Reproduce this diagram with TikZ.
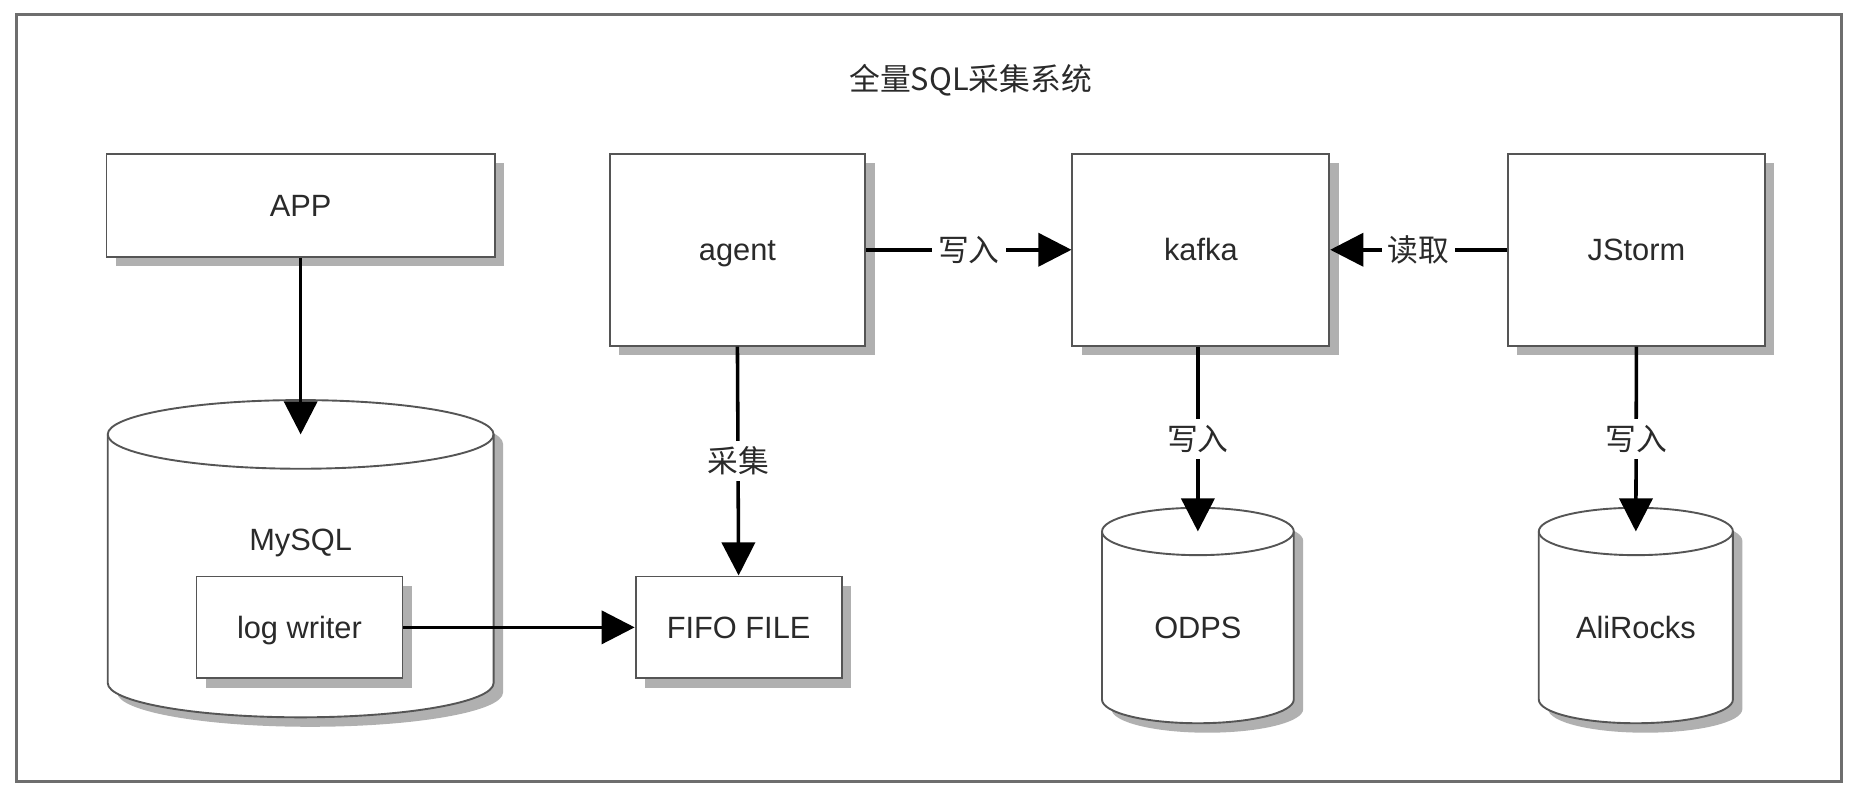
\documentclass[tikz,border=0pt]{standalone}
\usepackage{fontspec}
\setmainfont{Liberation Sans}
\newfontfamily\cjk{Noto Sans CJK SC}
\usetikzlibrary{arrows.meta,shadows}
\definecolor{boxline}{HTML}{555555}
\definecolor{framecol}{HTML}{6E6E6E}
\definecolor{shadowcol}{HTML}{B0B0B0}
\definecolor{txtcol}{HTML}{2A2A2A}
\newcommand\dbcyl[5]{% x1 x2 top bottom ry
  \pgfmathsetmacro\cxc{(#1+#2)/2}%
  \pgfmathsetmacro\ckx{0.5523*(#2-#1)/2}%
  \path[dbbody] ({#1},{#3+#5}) -- ({#1},{#4-#5})
    .. controls ({#1},{#4-0.4477*#5}) and ({\cxc-\ckx},{#4}) .. ({\cxc},{#4})
    .. controls ({\cxc+\ckx},{#4}) and ({#2},{#4-0.4477*#5}) .. ({#2},{#4-#5})
    -- ({#2},{#3+#5})
    .. controls ({#2},{#3+0.4477*#5}) and ({\cxc+\ckx},{#3}) .. ({\cxc},{#3})
    .. controls ({\cxc-\ckx},{#3}) and ({#1},{#3+0.4477*#5}) .. ({#1},{#3+#5}) -- cycle;
  \draw[dbline] ({#1},{#3+#5})
    .. controls ({#1},{#3+1.5523*#5}) and ({\cxc-\ckx},{#3+2*#5}) .. ({\cxc},{#3+2*#5})
    .. controls ({\cxc+\ckx},{#3+2*#5}) and ({#2},{#3+1.5523*#5}) .. ({#2},{#3+#5});
}
\begin{document}
\begin{tikzpicture}[x=0.5pt,y=-0.5pt,
  txt/.style={text=txtcol,font=\fontsize{13pt}{15pt}\selectfont,text height=9.4pt,text depth=0pt},
  shad/.style={drop shadow={shadow xshift=4pt,shadow yshift=-4pt,fill=shadowcol,opacity=1}},
  box/.style={txt,draw=boxline,line width=0.8pt,fill=white,shad,inner sep=0pt},
  dbbody/.style={draw=boxline,line width=0.8pt,fill=white,shad},
  dbline/.style={draw=boxline,line width=0.8pt},
  conn/.style={draw=black,line width=1.5pt,-{Triangle[length=14pt,width=14pt]}},
  lbl/.style={text=txtcol,font=\fontsize{13pt}{15pt}\selectfont\cjk,fill=white,inner sep=2.5pt}]
\useasboundingbox (0,0) rectangle (1568,671);
\fill[white] (0,0) rectangle (1568,671);
\draw[framecol,line width=1.3pt] (14,12) rectangle (1556,660);
\node[text=txtcol,font=\fontsize{13pt}{15pt}\selectfont\cjk] (title) at (820,68) {全量SQL采集系统};
% boxes
\node[box,minimum width=164pt,minimum height=43.5pt] (app) at (254,173.5) {APP};
\node[box,minimum width=108pt,minimum height=81pt] (agent) at (623,211) {agent};
\node[box,minimum width=108.5pt,minimum height=81pt] (kafka) at (1014.5,211) {kafka};
\node[box,minimum width=108.5pt,minimum height=81pt] (jstorm) at (1382.5,211) {JStorm};
% cylinders
\dbcyl{91}{417}{338}{606}{29}
\dbcyl{931}{1093}{429}{611}{20}
\dbcyl{1300}{1464}{429}{611}{20}
\node[txt] (mysql) at (254,456) {MySQL};
\node[txt] (odps) at (1012,530) {ODPS};
\node[txt] (alirocks) at (1382,530) {AliRocks};
\coordinate (mysqltop) at (254,367);
\coordinate (odpstop) at (1012,449);
\coordinate (alitop) at (1382,449);
\node[box,minimum width=87pt,minimum height=43pt] (logw) at (253,530) {log writer};
\node[box,minimum width=87pt,minimum height=43pt] (fifo) at (624,530) {FIFO FILE};
% connectors
\draw[conn] (app.south) -- (mysqltop);
\draw[conn] (logw.east) -- (fifo.west);
\draw[conn] (agent.south) -- node[lbl] {采集} (fifo.north);
\draw[conn] (agent.east) -- node[lbl] {写入} (kafka.west);
\draw[conn] (jstorm.west) -- node[lbl] {读取} (kafka.east);
\draw[conn] (kafka.south -| odpstop) -- node[lbl] {写入} (odpstop);
\draw[conn] (jstorm.south) -- node[lbl] {写入} (alitop);
\end{tikzpicture}
\end{document}
